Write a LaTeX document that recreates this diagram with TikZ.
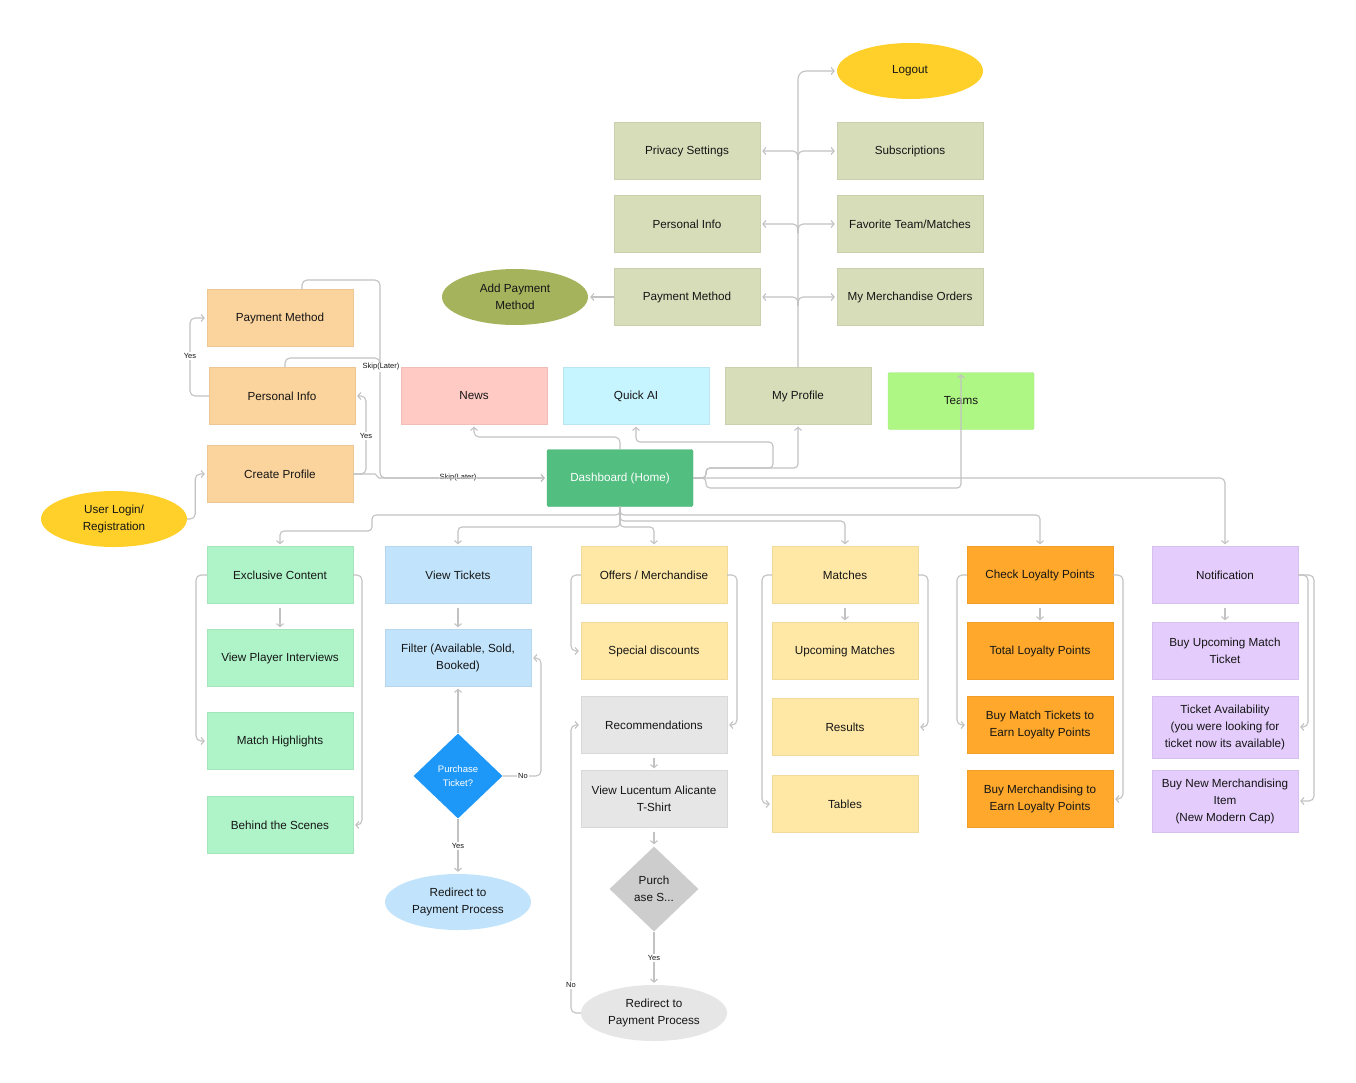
\documentclass[tikz,border=0pt]{standalone}
\usepackage{fontspec}
\setmainfont{Liberation Sans}
\usetikzlibrary{arrows.meta,shapes.geometric}
\definecolor{ctext}{HTML}{151515}
\definecolor{lc}{HTML}{C2C2C2}
\definecolor{cyellow}{HTML}{FFD02A}
\definecolor{colive}{HTML}{D7DDB9}
\definecolor{caddpay}{HTML}{A5B35D}
\definecolor{cpeach}{HTML}{FBD39C}
\definecolor{cpink}{HTML}{FFC9C4}
\definecolor{ccyan}{HTML}{C6F4FF}
\definecolor{cteams}{HTML}{AEF784}
\definecolor{cdash}{HTML}{52BE80}
\definecolor{cmint}{HTML}{AEF4C8}
\definecolor{cblue}{HTML}{C1E4FC}
\definecolor{cdblue}{HTML}{1E98F8}
\definecolor{coffer}{HTML}{FFE8A6}
\definecolor{cgray}{HTML}{E6E6E6}
\definecolor{cgdia}{HTML}{CDCDCD}
\definecolor{corange}{HTML}{FFA82B}
\definecolor{clav}{HTML}{E4CCFC}
\newcommand\mainfs{\fontsize{11.7}{17}\selectfont}
\newcommand\diafs{\fontsize{9.5}{14}\selectfont}
\newcommand\lblfs{\fontsize{7.5}{9}\selectfont}
\begin{document}
\begin{tikzpicture}[x=1pt,y=-1pt,
  box/.style={rectangle, fill=#1, draw=#1!94!black, line width=0.4pt,
    minimum width=146pt, minimum height=57pt, inner sep=2pt, align=center,
    font=\mainfs, text=ctext},
  ell/.style={ellipse, fill=#1, minimum width=146pt, minimum height=56pt,
    inner sep=0pt, align=center, font=\mainfs, text=ctext},
  dia/.style={diamond, fill=#1, minimum width=89pt, minimum height=85pt,
    inner sep=0pt, align=center},
  conn/.style={draw=lc, line width=1.1pt, rounded corners=5pt,
    -{Straight Barb[length=3pt,width=7pt]}, shorten >=2pt},
  plainline/.style={draw=lc, line width=1.1pt, rounded corners=5pt},
  lbl/.style={fill=white, inner sep=1pt, font=\lblfs, text=ctext}]
\useasboundingbox[fill=white] (0,0) rectangle (1356,1082);

% ---------- top (profile) ----------
\node[ell=cyellow] (logout) at (910,71) {Logout};
\node[box=colive] (priv) at (687,151) {Privacy Settings};
\node[box=colive] (subs) at (910,151) {Subscriptions};
\node[box=colive] (pinfo2) at (687,224) {Personal Info};
\node[box=colive] (fav) at (910,224) {Favorite Team/Matches};
\node[box=colive] (paym2) at (687,297) {Payment Method};
\node[box=colive] (merch) at (910,297) {My Merchandise Orders};
\node[ell=caddpay] (addpay) at (515,297) {Add Payment\\Method};

% ---------- middle ----------
\node[box=cpeach] (paym) at (280,318) {Payment Method};
\node[box=cpeach] (pinfo) at (282,396) {Personal Info};
\node[box=cpeach] (create) at (280,474) {Create Profile};
\node[ell=cyellow] (login) at (114,519) {User Login/\\Registration};
\node[box=cpink] (news) at (474,396) {News};
\node[box=ccyan] (quick) at (636,396) {Quick AI};
\node[box=colive] (myprof) at (798,396) {My Profile};
\node[box=cteams, rounded corners=1.5pt] (teams) at (961,401) {Teams};
\node[box=cdash, text=white, rounded corners=1.5pt] (dash) at (620,478) {Dashboard (Home)};

% ---------- bottom columns ----------
\node[box=cmint] (excl) at (280,575) {Exclusive Content};
\node[box=cmint] (vpi) at (280,658) {View Player Interviews};
\node[box=cmint] (mh) at (280,741) {Match Highlights};
\node[box=cmint] (bts) at (280,825) {Behind the Scenes};

\node[box=cblue] (vt) at (458,575) {View Tickets};
\node[box=cblue] (filt) at (458,658) {Filter (Available, Sold,\\Booked)};
\node[dia=cdblue, text=white, font=\diafs] (pt) at (458,776) {Purchase\\Ticket?};
\node[ell=cblue] (rp1) at (458,902) {Redirect to\\Payment Process};

\node[box=coffer] (off) at (654,575) {Offers / Merchandise};
\node[box=coffer] (sd) at (654,651) {Special discounts};
\node[box=cgray] (rec) at (654,725) {Recommendations};
\node[box=cgray] (vl) at (654,799) {View Lucentum Alicante\\T-Shirt};
\node[dia=cgdia, font=\mainfs, text=ctext] (ps) at (654,889) {Purch\\ase S...};
\node[ell=cgray] (rp2) at (654,1013) {Redirect to\\Payment Process};

\node[box=coffer] (mat) at (845,575) {Matches};
\node[box=coffer] (um) at (845,651) {Upcoming Matches};
\node[box=coffer] (res) at (845,727) {Results};
\node[box=coffer] (tab) at (845,804) {Tables};

\node[box=corange] (clp) at (1040,575) {Check Loyalty Points};
\node[box=corange] (tlp) at (1040,651) {Total Loyalty Points};
\node[box=corange] (bmt) at (1040,725) {Buy Match Tickets to\\Earn Loyalty Points};
\node[box=corange] (bme) at (1040,799) {Buy Merchandising to\\Earn Loyalty Points};

\node[box=clav] (notif) at (1225,575) {Notification};
\node[box=clav] (bum) at (1225,651) {Buy Upcoming Match\\Ticket};
\node[box=clav, minimum height=62pt] (ta) at (1225,727) {Ticket Availability\\(you were looking for\\ticket now its available)};
\node[box=clav, minimum height=62pt] (bnm) at (1225,801) {Buy New Merchandising\\Item\\(New Modern Cap)};

% ---------- connectors: top ----------
\coordinate (j1) at (798,160);
\coordinate (j2) at (798,233);
\coordinate (j3) at (798,306);
\draw[conn, rounded corners=8pt] (myprof.north) |- (logout.west);
\draw[conn] (j1) |- (priv.east);
\draw[conn] (j1) |- (subs.west);
\draw[conn] (j2) |- (pinfo2.east);
\draw[conn] (j2) |- (fav.west);
\draw[conn] (j3) |- (paym2.east);
\draw[conn] (j3) |- (merch.west);
\draw[conn] (paym2.west) -- (addpay.east);

% ---------- connectors: left ----------
\draw[conn] (login.east) -- ++(8,0) |- (create.west);
\draw[conn] (create.east) -- (366,474) -- (366,396) -- (pinfo.east);
\node[lbl] at (366,436) {Yes};
\draw[conn] (create.east) -- (370,474) to[out=0,in=180] (384,478) -- (dash.west);
\node[lbl] at (458,478) {Skip(Later)};
\draw[conn] ([xshift=22pt]paym.north) |- (380,280) |- (dash.west);
\draw[plainline] ([xshift=3pt]pinfo.north) |- (380,358) -- (380,372);
\node[lbl] at (381,367) {Skip(Later)};
\draw[conn] (pinfo.west) -- (190,396) -- (190,318) -- (paym.west);
\node[lbl] at (190,356) {Yes};

% ---------- connectors: dashboard up ----------
\draw[conn] (dash.north) -- (620,437) -- (474,437) -- (news.south);
\draw[conn, rounded corners=4pt] (dash.east) -- (706,478) -- (706,468) -- (773,468) -- (773,442) -- (636,442) -- (quick.south);
\draw[conn, rounded corners=4pt] (dash.east) -- (706,478) -- (706,468) -- (798,468) -- (myprof.south);
\draw[conn, rounded corners=4pt] (dash.east) -- (706,478) -- (706,488) -- (961,488) -- (teams.north);
\draw[conn] (dash.east) -- (1225,478) -- (notif.north);

% ---------- connectors: dashboard down ----------
\draw[conn, rounded corners=4pt] (dash.south) -- (620,515) -- (372,515) -- (372,531) -- (280,531) -- (excl.north);
\draw[conn, rounded corners=4pt] (dash.south) -- (620,527) -- (458,527) -- (vt.north);
\draw[conn, rounded corners=4pt] (dash.south) -- (620,527) -- (654,527) -- (off.north);
\draw[conn, rounded corners=4pt] (dash.south) -- (620,521) -- (845,521) -- (mat.north);
\draw[conn, rounded corners=4pt] (dash.south) -- (620,515) -- (1040,515) -- (clp.north);

% ---------- connectors: columns ----------
\draw[conn, shorten <=4pt] (excl.south) -- (vpi.north);
\draw[conn] (excl.west) -- (196,575) -- (196,741) -- (mh.west);
\draw[conn] (excl.east) -- (362,575) -- (362,825) -- (bts.east);

\draw[conn, shorten <=4pt] (vt.south) -- (filt.north);
\draw[conn] (pt.north) -- (filt.south);
\draw[conn] (pt.east) -- (541,776) -- (541,658) -- (filt.east);
\node[lbl] at (523,776) {No};
\draw[conn] (pt.south) -- (rp1.north);
\node[lbl] at (458,846) {Yes};

\draw[conn] (off.west) -- (571,575) -- (571,651) -- (sd.west);
\draw[conn] (off.east) -- (737,575) -- (737,725) -- (rec.east);
\draw[conn, shorten <=4pt] (rec.south) -- (vl.north);
\draw[conn, shorten <=4pt] (vl.south) -- (ps.north);
\draw[conn] (ps.south) -- (rp2.north);
\node[lbl] at (654,958) {Yes};
\draw[conn] (rp2.west) -- (571,1013) -- (571,725) -- (rec.west);
\node[lbl] at (571,985) {No};

\draw[conn, shorten <=4pt] (mat.south) -- (um.north);
\draw[conn] (mat.west) -- (762,575) -- (762,804) -- (tab.west);
\draw[conn] (mat.east) -- (928,575) -- (928,727) -- (res.east);

\draw[conn, shorten <=4pt] (clp.south) -- (tlp.north);
\draw[conn] (clp.west) -- (957,575) -- (957,725) -- (bmt.west);
\draw[conn] (clp.east) -- (1123,575) -- (1123,799) -- (bme.east);

\draw[conn, shorten <=4pt] (notif.south) -- (bum.north);
\draw[conn] (notif.east) -- (1308,575) -- (1308,727) -- (ta.east);
\draw[conn] (notif.east) -- (1314,575) -- (1314,801) -- (bnm.east);
\end{tikzpicture}
\end{document}
